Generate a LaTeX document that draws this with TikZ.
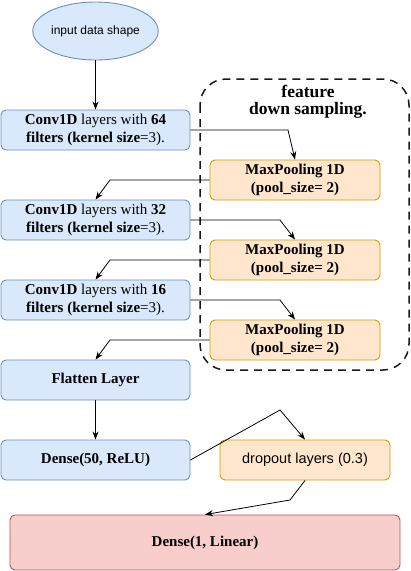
\documentclass[tikz,border=0pt]{standalone}
\usepackage{fontspec}
\setmainfont{Liberation Serif}
\newfontfamily\sansf{Liberation Sans}
\usetikzlibrary{arrows.meta,shapes.geometric}
\definecolor{bfill}{HTML}{DAE8FC}\definecolor{bdraw}{HTML}{6C8EBF}
\definecolor{ofill}{HTML}{FFE6CC}\definecolor{odraw}{HTML}{D79B00}
\definecolor{rfill}{HTML}{F8CECC}\definecolor{rdraw}{HTML}{B85450}
\tikzset{
  box/.style={draw, rounded corners=5pt, line width=0.9pt, align=center, inner sep=0pt,
    font=\fontsize{15}{18}\selectfont},
  boldtext/.style={font=\fontsize{15}{18}\selectfont\bfseries},
  bluebox/.style={box, fill=bfill, draw=bdraw, minimum width=189pt, minimum height=40pt},
  orangebox/.style={box, fill=ofill, draw=odraw, minimum width=170pt, minimum height=40pt},
  redbox/.style={box, fill=rfill, draw=rdraw, minimum width=390pt, minimum height=55pt},
  conn/.style={line width=0.8pt, -{Stealth[length=8pt,width=6pt]}},
}
\begin{document}
\begin{tikzpicture}[x=1pt,y=-1pt]
\useasboundingbox (0,0) rectangle (411,571);
% dashed group
\draw[line width=1.5pt, dash pattern=on 8pt off 6pt, rounded corners=26pt, draw=black!90] (200,79) rectangle (409,370);
\node[font=\fontsize{17.5}{17}\selectfont\bfseries, align=center] (title) at (308,102) {feature\\down sampling.};

\node[ellipse, draw=bdraw, fill=bfill, line width=0.9pt, minimum width=100pt, minimum height=58pt, inner sep=0pt,
  font=\sansf\fontsize{12}{14}\selectfont] (inp) at (95.5,31) {input data shape};

\node[bluebox] (c1) at (95.5,130) {\textbf{Conv1D} layers with \textbf{64}\\\textbf{filters (kernel size}=3).};
\node[bluebox] (c2) at (95.5,220) {\textbf{Conv1D} layers with \textbf{32}\\\textbf{filters (kernel size}=3).};
\node[bluebox] (c3) at (95.5,300) {\textbf{Conv1D} layers with \textbf{16}\\\textbf{filters (kernel size}=3).};
\node[bluebox, boldtext] (fl) at (95.5,380) {Flatten Layer};
\node[bluebox, boldtext] (d50) at (95.5,460) {Dense(50, ReLU)};

\node[orangebox, boldtext] (m1) at (295,180) {MaxPooling 1D\\(pool\_size= 2)};
\node[orangebox, boldtext] (m2) at (295,260) {MaxPooling 1D\\(pool\_size= 2)};
\node[orangebox, boldtext] (m3) at (295,340) {MaxPooling 1D\\(pool\_size= 2)};
\node[orangebox, font=\sansf\fontsize{14.5}{17}\selectfont] (dr) at (305,460) {dropout layers (0.3)};

\node[redbox, boldtext] (d1) at (205,542.5) {Dense(1, Linear)};

\coordinate (a1) at (288,130);
\coordinate (a2) at (110,180);
\coordinate (a3) at (280,220);
\coordinate (a4) at (110,260);
\coordinate (a5) at (280,300);
\coordinate (a6) at (110,340);
\coordinate (a7) at (280,410);
\coordinate (a8) at (290,500);

\draw[conn] (inp.south) -- (c1.north);
\draw[conn] (c1.east) -- (a1) -- (m1.north);
\draw[conn] (m1.west) -- (a2) -- (c2.north);
\draw[conn] (c2.east) -- (a3) -- (m2.north);
\draw[conn] (m2.west) -- (a4) -- (c3.north);
\draw[conn] (c3.east) -- (a5) -- (m3.north);
\draw[conn] (m3.west) -- (a6) -- (fl.north);
\draw[conn] (fl.south) -- (d50.north);
\draw[conn] (d50.east) -- (a7) -- (dr.north);
\draw[conn] (dr.south) -- (a8) -- (d1.north);
\end{tikzpicture}
\end{document}
